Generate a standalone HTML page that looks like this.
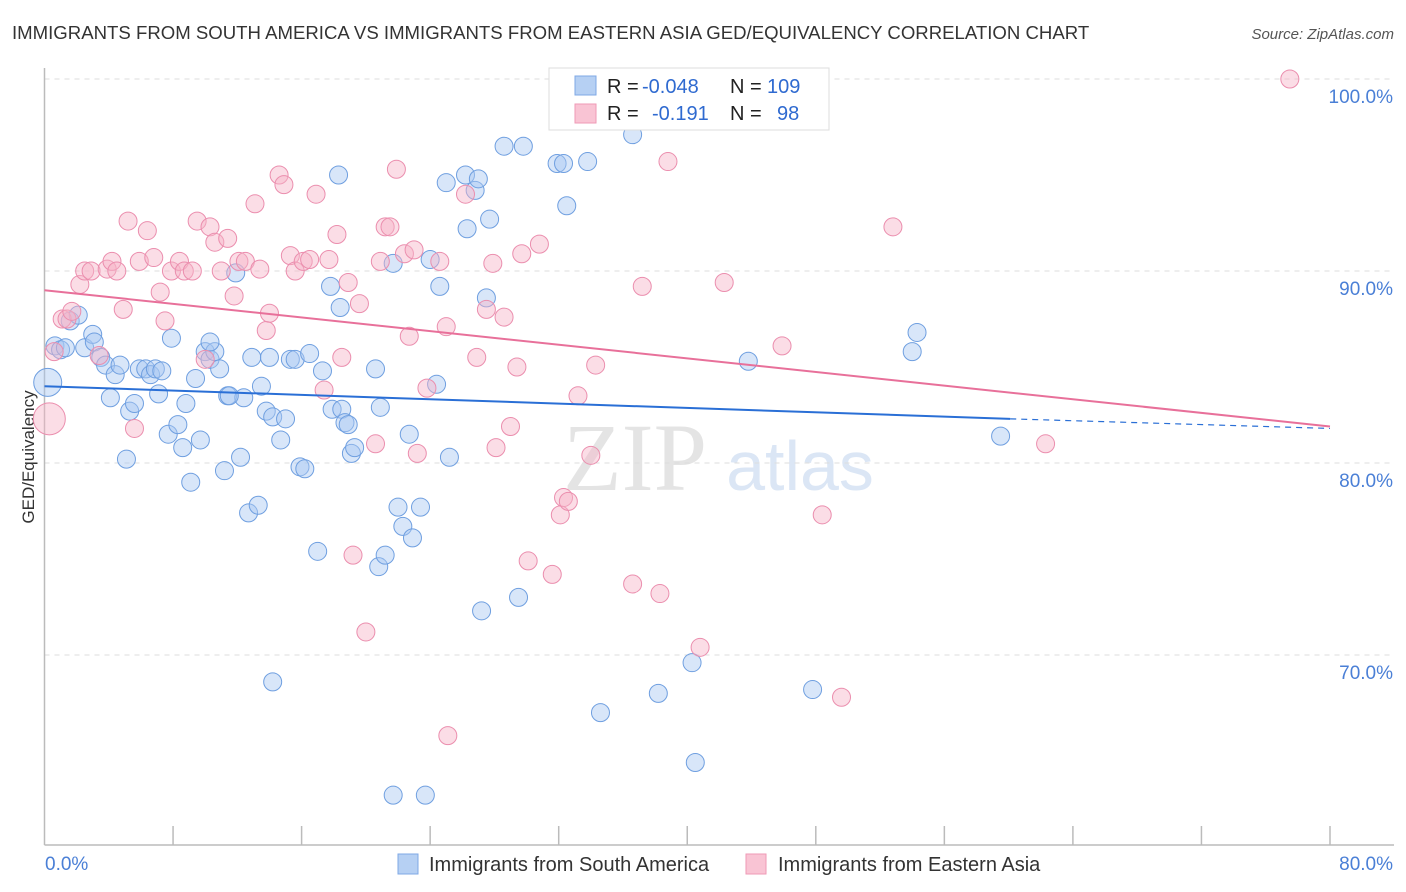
<!DOCTYPE html>
<html><head><meta charset="utf-8">
<style>
body{margin:0;background:#fff;width:1406px;height:892px;overflow:hidden;font-family:"Liberation Sans",sans-serif;}
svg{position:absolute;left:0;top:0}
</style></head>
<body>
<svg id="chart" width="1406" height="892">
<text x="12" y="39" font-size="18.6" fill="#333">IMMIGRANTS FROM SOUTH AMERICA VS IMMIGRANTS FROM EASTERN ASIA GED/EQUIVALENCY CORRELATION CHART</text>
<text x="1394" y="39" font-size="15" fill="#555" font-style="italic" text-anchor="end">Source: ZipAtlas.com</text>
<text x="635" y="490" font-size="96" fill="#e4e4e4" font-family="Liberation Serif" text-anchor="middle">ZIP</text>
<text x="800" y="490" font-size="70" fill="#dbe6f5" text-anchor="middle">atlas</text>
<text transform="translate(34,457) rotate(-90)" font-size="17" fill="#333" text-anchor="middle">GED/Equivalency</text>
<g id="grid"></g><g id="axes"></g><g id="marks"></g>
<g>
<rect x="549" y="68" width="280" height="62" fill="#fff" stroke="#ddd"/>
<rect x="575" y="76" width="21" height="19" fill="#b6d0f3" stroke="#7fa8e6"/>
<rect x="575" y="104" width="21" height="19" fill="#f9c4d4" stroke="#ef9ab6"/>
<text x="607" y="93" font-size="20" fill="#222">R = <tspan fill="#2f6ad0" x="642">-0.048</tspan></text>
<text x="730" y="93" font-size="20" fill="#222">N = <tspan fill="#2f6ad0" x="767">109</tspan></text>
<text x="607" y="120" font-size="20" fill="#222">R = <tspan fill="#2f6ad0" x="652">-0.191</tspan></text>
<text x="730" y="120" font-size="20" fill="#222">N = <tspan fill="#2f6ad0" x="777">98</tspan></text>
</g>
<g>
<rect x="398" y="854" width="20" height="20" fill="#b6d0f3" stroke="#7fa8e6"/>
<text x="429" y="871" font-size="20" fill="#333">Immigrants from South America</text>
<rect x="746" y="854" width="20" height="20" fill="#f9c4d4" stroke="#ef9ab6"/>
<text x="778" y="871" font-size="20" fill="#333">Immigrants from Eastern Asia</text>
</g>
</svg>
<script>
const blueX=[0.2,0.65,1.0,1.3,1.6,2.1,2.5,3.0,3.1,3.5,3.8,4.1,4.4,4.7,5.1,5.3,5.6,5.9,6.3,6.6,6.9,7.1,7.3,7.7,7.9,8.3,8.6,8.8,9.1,9.4,9.7,10.0,10.3,10.6,10.9,11.2,11.4,11.9,12.2,12.4,12.7,12.9,13.3,13.5,13.8,14.2,14.7,15.0,15.3,15.6,15.9,16.2,16.5,17.0,17.3,17.8,17.9,18.3,18.4,18.5,18.7,18.9,19.1,19.3,20.6,20.8,20.9,21.2,21.7,22.0,22.3,22.7,22.9,23.4,24.0,24.4,24.6,25.0,25.2,26.2,26.3,26.8,27.0,27.2,27.5,27.7,28.6,29.5,29.8,31.9,32.3,32.5,33.8,34.6,36.6,38.2,40.3,40.5,43.8,47.8,54.0,54.3,59.5,14.2,21.7,23.7,14.0,11.5,10.3];
const blueY=[84.2,86.1,85.9,86.0,87.4,87.7,86.0,86.7,86.3,85.5,85.1,83.4,84.6,85.1,80.2,82.7,83.1,84.9,84.9,84.6,84.9,83.6,84.8,81.5,86.5,82.0,80.8,83.1,79.0,84.4,81.2,85.8,85.4,85.8,84.9,79.6,83.5,89.9,80.3,83.4,77.4,85.5,77.8,84.0,82.7,82.4,81.2,82.3,85.4,85.4,79.8,79.7,85.7,75.4,84.8,89.2,82.8,95.0,88.1,82.8,82.1,82.0,80.5,80.8,84.9,74.6,82.9,75.2,90.4,77.7,76.7,81.5,76.1,77.7,90.6,84.1,89.2,94.6,80.3,95.0,92.2,94.2,94.8,72.3,88.6,92.7,96.5,73.0,96.5,95.6,95.6,93.4,95.7,67.0,97.1,68.0,69.6,64.4,85.3,68.2,85.8,86.8,81.4,68.6,62.7,62.7,85.5,83.5,86.3];
const pinkX=[0.3,0.6,1.1,1.4,1.7,2.2,2.5,2.9,3.4,3.9,4.2,4.5,4.9,5.2,5.6,5.9,6.4,6.8,7.2,7.5,7.9,8.4,8.7,9.2,9.5,10.0,10.3,10.6,11.0,11.4,11.8,12.1,12.5,13.1,13.4,13.8,14.0,14.6,14.9,15.3,15.6,16.1,16.5,16.9,17.4,17.7,18.2,18.5,18.9,19.2,19.6,20.0,20.6,20.9,21.2,21.5,21.9,22.4,22.7,23.0,23.2,23.8,24.6,25.0,25.1,26.2,26.9,27.5,27.9,28.1,28.6,29.0,29.4,29.7,30.1,30.8,31.6,32.1,32.3,32.6,34.0,33.2,34.3,36.6,37.2,38.3,38.8,40.8,42.3,45.9,48.4,49.6,52.8,62.3,77.5];
const pinkY=[82.3,85.8,87.5,87.5,87.9,89.3,90.0,90.0,85.6,90.1,90.5,90.0,88.0,92.6,81.8,90.5,92.1,90.7,88.9,87.4,90.0,90.5,90.0,90.0,92.6,85.4,92.3,91.5,90.0,91.7,88.7,90.5,90.5,93.5,90.1,86.9,87.8,95.0,94.5,90.8,90.0,90.5,90.6,94.0,83.8,90.6,91.9,85.5,89.4,75.2,88.3,71.2,81.0,90.5,92.3,92.3,95.3,90.9,86.6,91.1,80.5,83.9,90.5,87.1,65.8,94.0,85.5,88.0,90.4,80.8,87.6,81.9,85.0,90.9,74.9,91.4,74.2,77.3,78.2,78.0,80.4,83.5,85.1,73.7,89.2,73.2,95.7,70.4,89.4,86.1,77.3,67.8,92.3,81.0,100.0];
const ticksY=[70,80,90,100];
const x=v=>44.5+v/80*1285.5;
const y=v=>79-(v-100)*19.2;
const NS='http://www.w3.org/2000/svg';
function mk(p,t,a){const e=document.createElementNS(NS,t);for(const k in a)e.setAttribute(k,a[k]);p.appendChild(e);return e;}
const grid=document.getElementById('grid'),axes=document.getElementById('axes'),marks=document.getElementById('marks');
ticksY.forEach(t=>{
 const l=mk(grid,'line',{x1:44.5,x2:1394,y1:y(t),y2:y(t),stroke:'#ddd','stroke-dasharray':'5,5'});
 
 
 const tx=mk(grid,'text',{x:1393,y:y(t)+24,'font-size':19,fill:'#4a7fd6','text-anchor':'end'});
 tx.textContent=t.toFixed(1)+'%';
 
 
});
mk(axes,'line',{x1:44.5,x2:44.5,y1:68,y2:845,stroke:'#bbb','stroke-width':1.5});
mk(axes,'line',{x1:44.5,x2:1394,y1:845,y2:845,stroke:'#bbb','stroke-width':1.5});
for(let i=1;i<=10;i++){const l=mk(axes,'line',{x1:x(i*8),x2:x(i*8),y1:826,y2:845,stroke:'#bbb','stroke-width':1.5});
 
 }
const t0=mk(axes,'text',{x:45,y:870,'font-size':19,fill:'#4a7fd6'});t0.textContent='0.0%';


const t1=mk(axes,'text',{x:1393,y:870,'font-size':19,fill:'#4a7fd6','text-anchor':'end'});t1.textContent='80.0%';


function pts(X,Y,fill,stroke,name){X.forEach((v,i)=>{const r=(i===0)?(name==='pink-point'?16:14):9;
 const c=mk(marks,'circle',{cx:x(v),cy:y(Y[i]),r:r,fill:fill,'fill-opacity':0.45,stroke:stroke,'stroke-width':1});
 
 });}
pts(blueX,blueY,'#a9c7f1','#6f9fe0','blue-point');
pts(pinkX,pinkY,'#f6b3c8','#eb8eae','pink-point');
const bl=mk(marks,'line',{x1:x(0),y1:y(84.0),x2:x(60.1),y2:y(82.3),stroke:'#2a6fd6','stroke-width':2});


const bd=mk(marks,'line',{x1:x(60.1),y1:y(82.3),x2:x(80),y2:y(81.8),stroke:'#2a6fd6','stroke-width':1.2,'stroke-dasharray':'6,5'});


const pl=mk(marks,'line',{x1:x(0),y1:y(89.0),x2:x(80),y2:y(81.9),stroke:'#e8709a','stroke-width':2});


</script>
</body></html>
